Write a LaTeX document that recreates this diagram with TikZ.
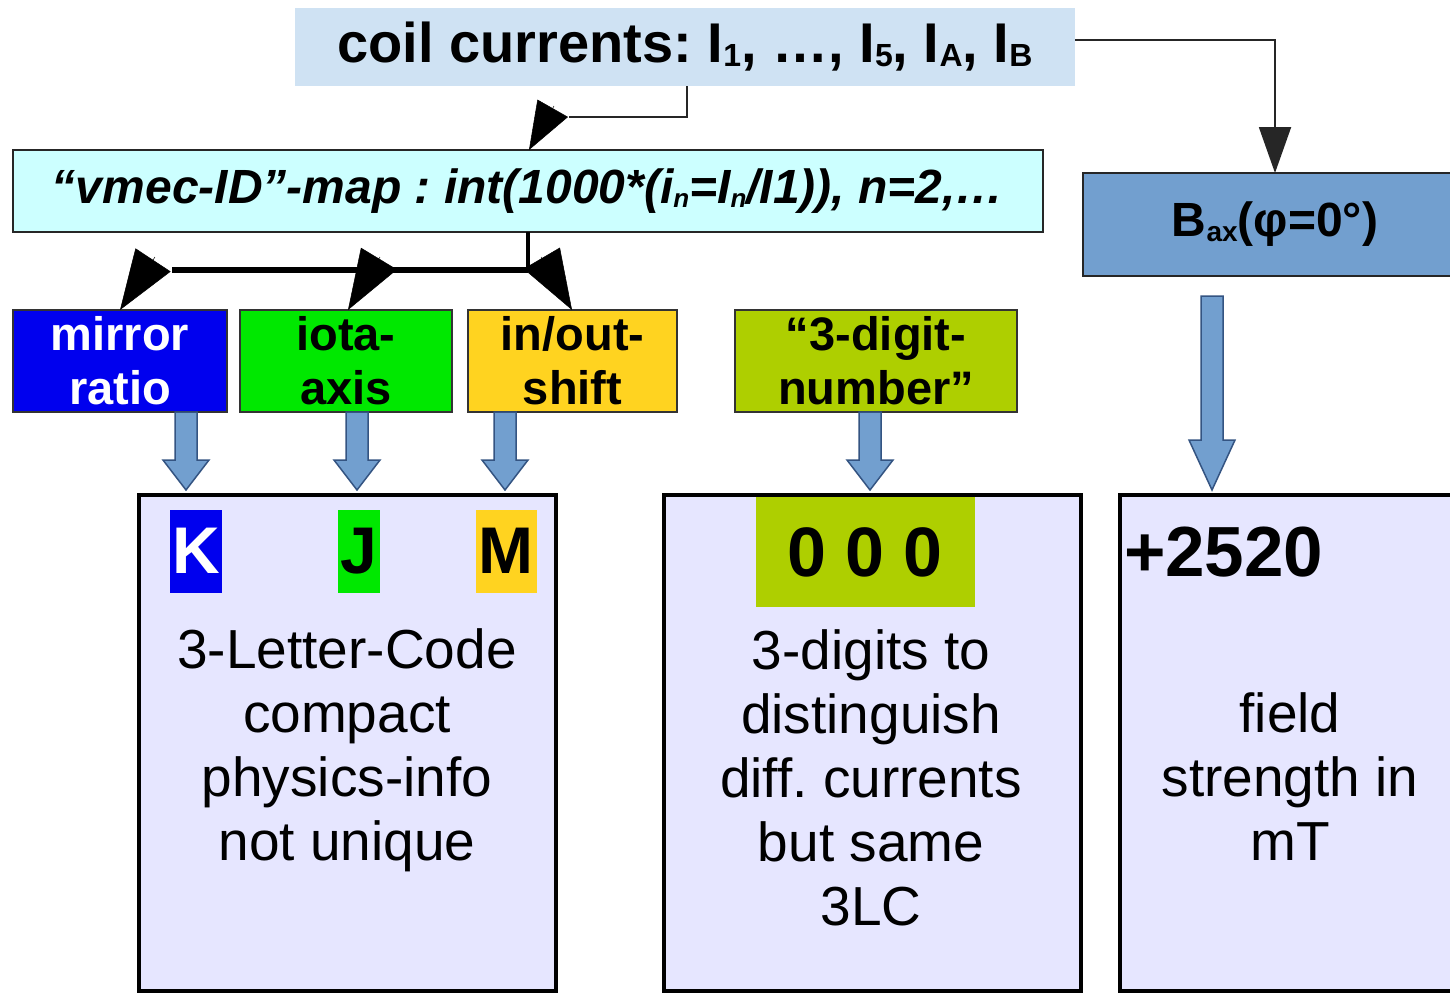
\documentclass[tikz,border=0pt]{standalone}
\usepackage{fontspec}
\setmainfont{Liberation Sans}
\usetikzlibrary{arrows.meta,calc}
\frenchspacing
\definecolor{coilbg}{RGB}{207,226,243}
\definecolor{vmecbg}{RGB}{204,255,255}
\definecolor{baxbg}{RGB}{114,159,207}
\definecolor{arrowedge}{RGB}{52,84,130}
\definecolor{lav}{RGB}{230,230,255}
\definecolor{mblue}{RGB}{0,0,238}
\definecolor{igreen}{RGB}{0,232,0}
\definecolor{iyellow}{RGB}{255,211,32}
\definecolor{dgreen}{RGB}{174,207,0}
\newcommand\lowsub[3]{\raisebox{-#2pt}{\fontsize{#1}{#1}\selectfont #3}}
\newcommand\blockarr[5]{%
  \filldraw[barrow] let \p1=(#2.south), \p2=(#3.north) in
  (#1pt-11pt,\y1-#5pt) -- (#1pt+11pt,\y1-#5pt) -- (#1pt+11pt,\y2+5pt+#4pt)
  -- (#1pt+23pt,\y2+5pt+#4pt) -- (#1pt,\y2+5pt) -- (#1pt-23pt,\y2+5pt+#4pt)
  -- (#1pt-11pt,\y2+5pt+#4pt) -- cycle;}
\begin{document}
\begin{tikzpicture}[x=1pt,y=-1pt,
  every node/.style={inner sep=0pt, outer sep=0pt},
  lbl/.style={draw=black!80, line width=1.5pt, anchor=north west, minimum height=102pt,
    align=center, font=\fontsize{47}{54}\selectfont\bfseries},
  bigbox/.style={draw=black, line width=4pt, fill=lav, anchor=north west, minimum height=496pt},
  badge/.style={minimum height=83pt, font=\fontsize{66}{70}\selectfont\bfseries},
  body/.style={align=center, font=\fontsize{55}{64}\selectfont},
  thinline/.style={draw=black!85, line width=2pt},
  thinconn/.style={draw=black!85, line width=2pt, -{Triangle[length=46pt,width=32pt]}},
  headonly/.style={draw=black, line width=0.5pt, -{Triangle[length=48pt,width=35pt]}},
  treehead/.style={draw=black, line width=0.5pt, -{Triangle[length=60pt,width=42pt]}},
  barrow/.style={fill=baxbg, draw=arrowedge, line width=1.5pt}]
\clip (0,0) rectangle (1450,994);
\fill[white] (0,0) rectangle (1450,994);
% top
\node[fill=coilbg, anchor=north west, minimum width=780pt, minimum height=78pt,
  font=\fontsize{56}{60}\selectfont\bfseries] (coil) at (295,8)
  {coil currents: I\lowsub{32}{4}{1}, …, I\lowsub{32}{4}{5}, I\lowsub{32}{4}{A}, I\lowsub{32}{4}{B}};
\node[draw=black!85, line width=1.5pt, fill=vmecbg, anchor=north west, minimum width=1030pt,
  minimum height=82pt, font=\fontsize{48}{52}\selectfont\bfseries\itshape] (vmec) at (13,150)
  {“vmec-ID”-map : int(1000*(i\lowsub{26}{4}{n}=I\lowsub{26}{4}{n}/I1)), n=2,…};
\node[draw=black!85, line width=1.5pt, fill=baxbg, anchor=north west, minimum width=384pt,
  minimum height=103pt, font=\fontsize{48}{52}\selectfont\bfseries] (bax) at (1083,173)
  {B\lowsub{28}{5}{ax}(φ=0°)};
% labels
\node[lbl, fill=mblue, text=white, minimum width=214pt] (mirror) at (13,310) {mirror\\ratio};
\node[lbl, fill=igreen, minimum width=212pt] (iota) at (240,310) {iota-\\axis};
\node[lbl, fill=iyellow, minimum width=209pt] (inout) at (468,310) {in/out-\\shift};
\node[lbl, fill=dgreen, minimum width=282pt] (digit) at (735,310) {“3-digit-\\number”};
% bottom boxes
\node[bigbox, minimum width=417pt] (box1) at (139,495) {};
\node[bigbox, minimum width=417pt] (box2) at (664,495) {};
\node[bigbox, minimum width=380pt] (box3) at (1120,495) {};
\node[badge, fill=mblue, text=white, minimum width=52pt] (K) at (196,551) {K};
\node[badge, fill=igreen, minimum width=42pt] (J) at (359,551) {J};
\node[badge, fill=iyellow, minimum width=61pt] (M) at (506,551) {M};
\node[badge, fill=dgreen, minimum width=219pt, minimum height=110pt,
  font=\fontsize{70}{72}\selectfont\bfseries] (zeros) at (865,552) {0 0 0};
\node[font=\fontsize{71}{72}\selectfont\bfseries, anchor=west] (num) at (1124,552) {+2520};
\node[body] (t1) at (347,750) {3-Letter-Code\\compact\\physics-info\\not unique};
\node[body] (t2) at (871,778) {3-digits to\\distinguish\\diff. currents\\but same\\3LC};
\node[body] (t3) at (1290,777) {field\\strength in\\mT};
% connectors
\coordinate (topbend) at (569,117);
\draw[thinline] (coil.south -| 687,0) |- (topbend);
\draw[headonly] (554,106) -- (vmec.north -| 529,0);
\draw[thinconn] (coil.east |- 0,40) -| (bax.north);
\coordinate (junction) at (528,270);
\draw[black, line width=4pt] (vmec.south -| 528,0) -- (junction);
\draw[black, line width=5.5pt] (junction) -- (172,270);
\draw[treehead] (155,257) -- (mirror.north -| 120,0);
\draw[treehead] (380,257) -- (iota.north -| 348,0);
\draw[treehead] (541,257) -- (inout.north -| 572,0);
% block arrows
\blockarr{186}{mirror}{box1}{30}{0}
\blockarr{357}{iota}{box1}{30}{0}
\blockarr{505}{inout}{box1}{30}{0}
\blockarr{870}{digit}{box2}{30}{0}
\blockarr{1212}{bax}{box3}{50}{20}
\end{tikzpicture}
\end{document}
